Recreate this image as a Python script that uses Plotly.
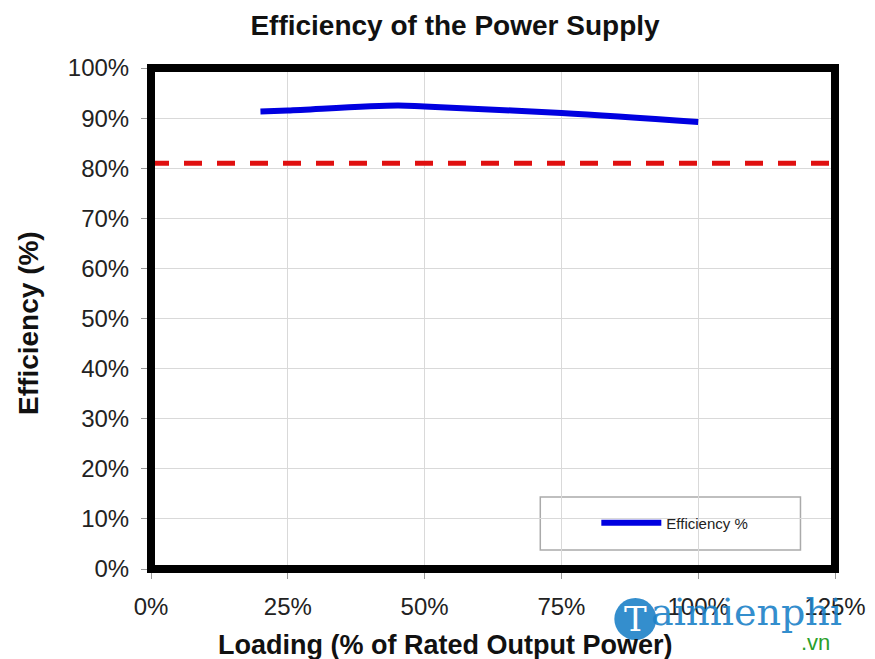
import plotly.graph_objects as go

# Data
loading_pct = [20, 25, 45, 50, 75, 100]
efficiency_pct = [91.3, 91.5, 92.5, 92.3, 91.0, 89.2]
threshold_x = [0, 125]
threshold_y = [81, 81]
x_ticks = [0, 25, 50, 75, 100, 125]
y_ticks = [0, 10, 20, 30, 40, 50, 60, 70, 80, 90, 100]

FONT = "Liberation Sans, Arial, sans-serif"
W, H = 867, 651  # page body has an 8px margin
PW, PH = 683.5, 501.0  # plot area size in px
PL, PB = 151.0, 569.0  # plot area left / bottom in screen px


def px(x):
    return (x - PL) / PW


def py(y):
    return (PB - y) / PH


fig = go.Figure()
fig.add_trace(go.Scatter(
    x=threshold_x, y=threshold_y, mode="lines",
    line=dict(color="#e01010", width=5, dash="18px,15px"),
    showlegend=False, hoverinfo="skip"))
fig.add_trace(go.Scatter(
    x=loading_pct, y=efficiency_pct, mode="lines", name="Efficiency %",
    line=dict(color="#0000e0", width=6, shape="spline", smoothing=1.0)))

fig.update_layout(
    width=W, height=H,
    margin=dict(l=143, r=40, t=60, b=90, autoexpand=False),
    paper_bgcolor="white", plot_bgcolor="white",
    font=dict(family=FONT, color="#222"),
    title=dict(text="<b>Efficiency of the Power Supply</b>", x=447/W, xref="container",
               y=1-17/H, yref="container", xanchor="center", yanchor="middle",
               font=dict(size=28, color="#111", family=FONT)),
    legend=dict(x=px(596), y=py(523), xanchor="left", yanchor="middle",
                bgcolor="rgba(0,0,0,0)", borderwidth=0, itemwidth=60,
                font=dict(size=15, color="#222", family=FONT)),
    showlegend=True,
)

fig.update_xaxes(
    range=[0, 125], tickvals=x_ticks, ticktext=[f"{v}%" for v in x_ticks],
    showgrid=True, gridcolor="#d9d9d9", gridwidth=1, zeroline=False,
    ticks="outside", ticklen=9, tickcolor="#999", tickwidth=1,
    tickfont=dict(size=24, color="#222", family=FONT),
    ticklabelstandoff=7, automargin=False,
    showline=False)
fig.update_yaxes(
    range=[0, 100], tickvals=y_ticks, ticktext=[f"{v}%" for v in y_ticks],
    showgrid=True, gridcolor="#d9d9d9", gridwidth=1, zeroline=False,
    ticks="outside", ticklen=9, tickcolor="#999", tickwidth=1,
    tickfont=dict(size=24, color="#222", family=FONT),
    ticklabelstandoff=7, automargin=False,
    showline=False)

# axis titles
fig.add_annotation(text="<b>Loading (% of Rated Output Power)</b>", xref="paper", yref="paper",
                   x=px(445), y=py(645), showarrow=False, xanchor="center", yanchor="middle",
                   font=dict(size=27, color="#111", family=FONT))
fig.add_annotation(text="<b>Efficiency (%)</b>", xref="paper", yref="paper",
                   x=px(28), y=py(323), showarrow=False, xanchor="center", yanchor="middle",
                   textangle=-90, font=dict(size=28, color="#111", family=FONT))

# plot border
fig.add_shape(type="rect", xref="paper", yref="paper", x0=0, x1=1, y0=0, y1=1,
              line=dict(color="black", width=8), layer="above")
# legend box
fig.add_shape(type="rect", xref="paper", yref="paper",
              x0=px(540), x1=px(800), y0=py(550), y1=py(497),
              line=dict(color="#aaa", width=1.5), fillcolor="white", layer="below")

# watermark
fig.add_shape(type="circle", xref="paper", yref="paper",
              x0=px(614), x1=px(656), y0=py(640), y1=py(598),
              line=dict(width=0), fillcolor="#1e82c8", opacity=0.9)
fig.add_annotation(text="T", xref="paper", yref="paper",
                   x=px(635), y=py(619), showarrow=False,
                   font=dict(size=34, color="white", family="DejaVu Serif"),
                   xanchor="center", yanchor="middle")
fig.add_annotation(text="aimienphi", xref="paper", yref="paper",
                   x=px(746), y=py(612), showarrow=False,
                   font=dict(size=38, color="#1e82c8", family="DejaVu Serif"),
                   xanchor="center", yanchor="middle", opacity=0.9)
fig.add_annotation(text=".vn", xref="paper", yref="paper",
                   x=px(815), y=py(642), showarrow=False,
                   font=dict(size=22, color="#2aa02a", family=FONT),
                   xanchor="center", yanchor="middle")

fig.write_html("out.html")
